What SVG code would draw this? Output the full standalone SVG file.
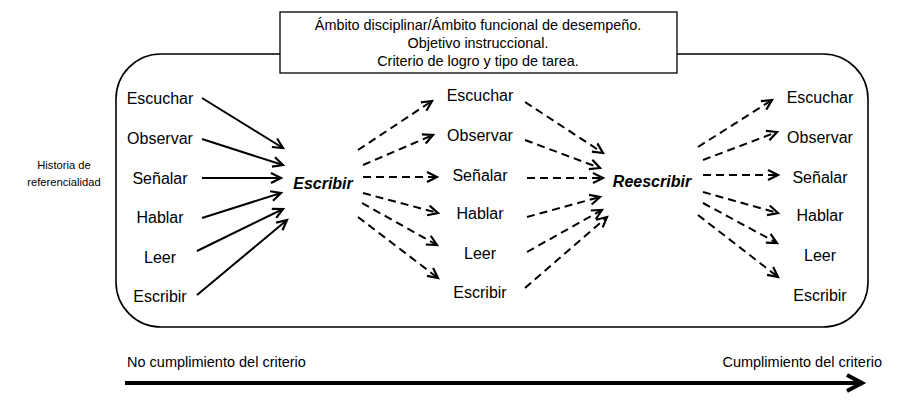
<svg xmlns="http://www.w3.org/2000/svg" width="912" height="410" viewBox="0 0 912 410">
<defs>
<style>
text{font-family:"Liberation Sans",Arial,sans-serif;fill:#000}
.lbl{font-size:16px;text-anchor:middle}
.bi{font-size:16px;font-weight:bold;font-style:italic;text-anchor:middle}
.ttl{font-size:14.4px;text-anchor:middle}
.sm{font-size:11.2px;text-anchor:middle}
.ax{font-size:14.5px}
.s{stroke:#000;stroke-width:2;fill:none;marker-end:url(#ah)}
.d{stroke:#000;stroke-width:2;fill:none;stroke-dasharray:8 5;marker-end:url(#ah)}
</style>
<marker id="ah" markerUnits="userSpaceOnUse" markerWidth="14" markerHeight="14" refX="11" refY="6" orient="auto" viewBox="0 0 14 12">
<path d="M1,1 L11,6 L1,11" fill="none" stroke="#000" stroke-width="2.2" stroke-linejoin="miter"/>
</marker>
</defs>
<rect width="912" height="410" fill="#fff"/>
<g id="frame">
<rect x="116" y="54" width="752" height="273" rx="45" ry="45" fill="none" stroke="#000" stroke-width="1.6"/>
</g>
<g id="title">
<rect x="280" y="12" width="397" height="61" fill="#fff" stroke="#000" stroke-width="1.3"/>
<text class="ttl" x="478" y="30">Ámbito disciplinar/Ámbito funcional de desempeño.</text>
<text class="ttl" x="478" y="48">Objetivo instruccional.</text>
<text class="ttl" x="478" y="66">Criterio de logro y tipo de tarea.</text>
</g>
<g id="historia"><text class="sm" x="64" y="169">Historia de</text><text class="sm" x="64" y="186">referencialidad</text></g>
<g id="left">
<g id="l-escuchar"><text class="lbl" x="160" y="104">Escuchar</text></g>
<g id="l-observar"><text class="lbl" x="160" y="144">Observar</text></g>
<g id="l-senalar"><text class="lbl" x="160" y="184">Señalar</text></g>
<g id="l-hablar"><text class="lbl" x="160" y="223">Hablar</text></g>
<g id="l-leer"><text class="lbl" x="160" y="263">Leer</text></g>
<g id="l-escribir"><text class="lbl" x="160" y="302">Escribir</text></g>
</g>
<g id="escribir"><text class="bi" x="323" y="189">Escribir</text></g>
<g id="middle">
<g id="m-escuchar"><text class="lbl" x="480" y="101">Escuchar</text></g>
<g id="m-observar"><text class="lbl" x="480" y="141">Observar</text></g>
<g id="m-senalar"><text class="lbl" x="480" y="181">Señalar</text></g>
<g id="m-hablar"><text class="lbl" x="480" y="219">Hablar</text></g>
<g id="m-leer"><text class="lbl" x="480" y="259">Leer</text></g>
<g id="m-escribir"><text class="lbl" x="480" y="298">Escribir</text></g>
</g>
<g id="reescribir"><text class="bi" x="652" y="187">Reescribir</text></g>
<g id="right">
<g id="r-escuchar"><text class="lbl" x="820" y="103">Escuchar</text></g>
<g id="r-observar"><text class="lbl" x="820" y="143">Observar</text></g>
<g id="r-senalar"><text class="lbl" x="820" y="183">Señalar</text></g>
<g id="r-hablar"><text class="lbl" x="820" y="221">Hablar</text></g>
<g id="r-leer"><text class="lbl" x="820" y="261">Leer</text></g>
<g id="r-escribir"><text class="lbl" x="820" y="301">Escribir</text></g>
</g>
<g id="connectors">
<path class="s" d="M202,98 L283,148"/>
<path class="s" d="M202,139 L283,165"/>
<path class="s" d="M202,178 L281,178"/>
<path class="s" d="M202,218 L281,193"/>
<path class="s" d="M197,251 L283,209"/>
<path class="s" d="M197,295 L287,220"/>
<path class="d" d="M358,150 L432,101"/>
<path class="d" d="M363,165 L433,135"/>
<path class="d" d="M363,177 L437,177"/>
<path class="d" d="M363,193 L438,213"/>
<path class="d" d="M362,203 L437,245"/>
<path class="d" d="M358,217 L438,278"/>
<path class="d" d="M525,102 L603,153"/>
<path class="d" d="M525,140 L600,168"/>
<path class="d" d="M527,178 L603,178"/>
<path class="d" d="M527,217 L600,197"/>
<path class="d" d="M527,252 L602,210"/>
<path class="d" d="M525,288 L607,217"/>
<path class="d" d="M698,147 L772,100"/>
<path class="d" d="M703,160 L777,132"/>
<path class="d" d="M703,175 L778,175"/>
<path class="d" d="M703,192 L778,213"/>
<path class="d" d="M703,203 L777,243"/>
<path class="d" d="M698,215 L778,277"/>
</g>
<g id="axis">
<text class="ax" x="127" y="367">No cumplimiento del criterio</text>
<text class="ax" x="882" y="367" text-anchor="end">Cumplimiento del criterio</text>
<line x1="125" y1="383" x2="860" y2="383" stroke="#000" stroke-width="4"/>
<polyline points="847,375 862,383 847,391" fill="none" stroke="#000" stroke-width="4"/>
</g>
</svg>
